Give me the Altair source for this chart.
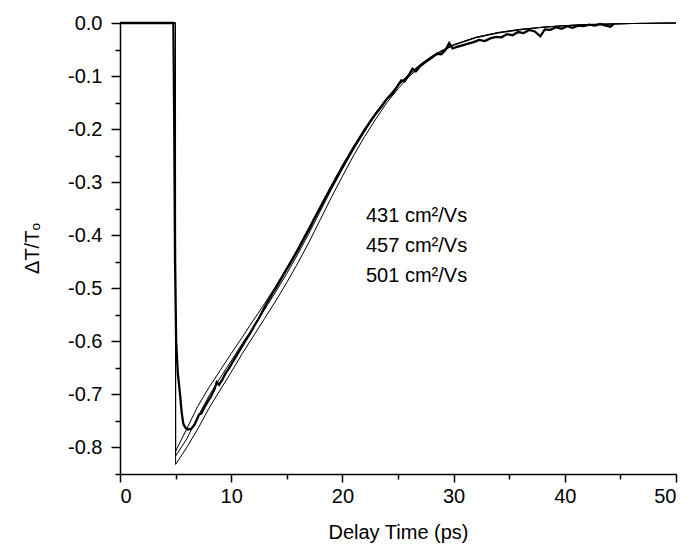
import altair as alt
import pandas as pd

# ---- data ----
FIT_T = [0, 4.99, 5, 6, 7, 8, 9, 10, 11, 12, 13, 14, 15, 16, 17, 18, 19, 20, 21, 22,
         23, 24, 25, 26, 27, 28, 29, 30, 32, 34, 36, 38, 40, 42, 44, 46, 48, 50]
FIT_431 = [0, 0, -0.832, -0.800, -0.765, -0.726, -0.692, -0.658, -0.623, -0.590, -0.557,
           -0.524, -0.489, -0.452, -0.413, -0.371, -0.329, -0.289, -0.250, -0.214, -0.181,
           -0.150, -0.124, -0.101, -0.082, -0.066, -0.053, -0.042, -0.028, -0.019, -0.013,
           -0.008, -0.005, -0.003, -0.002, -0.001, -0.0005, 0]
FIT_457 = [0, 0, -0.816, -0.784, -0.742, -0.703, -0.669, -0.637, -0.604, -0.573, -0.540,
           -0.507, -0.472, -0.435, -0.396, -0.355, -0.314, -0.275, -0.238, -0.204, -0.172,
           -0.144, -0.119, -0.098, -0.079, -0.064, -0.052, -0.041, -0.027, -0.018, -0.012,
           -0.008, -0.005, -0.003, -0.002, -0.001, -0.0005, 0]
FIT_501 = [0, 0, -0.807, -0.765, -0.722, -0.687, -0.655, -0.623, -0.592, -0.560, -0.529,
           -0.496, -0.461, -0.424, -0.385, -0.345, -0.306, -0.268, -0.232, -0.199, -0.169,
           -0.141, -0.117, -0.096, -0.078, -0.063, -0.051, -0.041, -0.027, -0.018, -0.012,
           -0.008, -0.005, -0.003, -0.002, -0.001, -0.0005, 0]

DATA_POINTS = [
    (0, 0), (4.8, 0), (4.88, -0.2), (4.95, -0.45), (5.05, -0.6), (5.2, -0.66), (5.4, -0.70),
    (5.55, -0.735), (5.7, -0.756), (5.9, -0.763), (6.1, -0.766), (6.4, -0.765), (6.7, -0.757),
    (6.9, -0.748), (7.1, -0.738), (7.3, -0.736), (7.6, -0.724), (7.9, -0.713), (8.2, -0.703),
    (8.5, -0.690), (8.7, -0.677), (8.9, -0.682), (9.2, -0.672), (9.5, -0.660), (9.8, -0.651),
    (10.1, -0.640), (10.5, -0.626), (10.9, -0.612), (11.3, -0.598), (11.7, -0.585),
    (12.1, -0.570), (12.5, -0.556), (12.9, -0.540), (13.2, -0.528), (13.6, -0.514),
    (14, -0.500), (14.5, -0.482), (15, -0.464), (15.5, -0.446), (16, -0.428), (16.5, -0.408),
    (17, -0.389), (17.5, -0.368), (18, -0.349), (18.5, -0.329), (19, -0.310), (19.5, -0.291),
    (20, -0.272), (20.5, -0.254), (21, -0.236), (21.5, -0.219), (22, -0.202), (22.5, -0.186),
    (23, -0.171), (23.5, -0.158), (24, -0.143), (24.5, -0.134), (25, -0.117), (25.3, -0.108),
    (25.6, -0.110), (26, -0.097), (26.3, -0.086), (26.6, -0.091), (27, -0.081), (27.5, -0.073),
    (28, -0.066), (28.5, -0.058), (28.9, -0.059), (29.3, -0.050), (29.6, -0.038),
    (29.9, -0.048), (30.3, -0.045), (30.8, -0.042), (31.3, -0.039), (31.8, -0.036),
    (32.3, -0.032), (32.8, -0.034), (33.3, -0.029), (33.8, -0.026), (34.3, -0.027),
    (34.8, -0.021), (35.3, -0.023), (35.8, -0.017), (36.3, -0.019), (36.8, -0.013),
    (37.3, -0.016), (37.8, -0.025), (38.2, -0.012), (38.7, -0.013), (39.2, -0.008),
    (39.7, -0.011), (40.2, -0.006), (40.7, -0.009), (41.2, -0.005), (41.7, -0.006),
    (42.2, -0.003), (42.7, -0.005), (43.2, -0.002), (43.7, -0.005), (44.1, -0.007),
    (44.4, -0.002),
]

X_TICKS = [0, 5, 10, 15, 20, 25, 30, 35, 40, 45, 50]
Y_TICKS = [0.0, -0.05, -0.1, -0.15, -0.2, -0.25, -0.3, -0.35, -0.4, -0.45, -0.5,
           -0.55, -0.6, -0.65, -0.7, -0.75, -0.8, -0.85]
ANNOT_LINES = ["431 cm²/Vs", "457 cm²/Vs", "501 cm²/Vs"]

# ---- tables ----
rows = []
for name, vals in (("431", FIT_431), ("457", FIT_457), ("501", FIT_501)):
    for t, v in zip(FIT_T, vals):
        rows.append({"t": t, "v": v, "series": name})
fits = pd.DataFrame(rows)
meas = pd.DataFrame(DATA_POINTS, columns=["t", "v"])

FONT = "Liberation Sans"
Y_MAJOR = "abs(datum.value * 10 - round(datum.value * 10)) < 0.001"

x_enc = alt.X(
    "t:Q",
    scale=alt.Scale(domain=[0, 50], nice=False, zero=False),
    axis=alt.Axis(
        values=X_TICKS,
        title="Delay Time (ps)",
        labelExpr="datum.value % 10 === 0 ? datum.label : ''",
        tickSize={"condition": {"test": "datum.value % 10 === 0", "value": 8}, "value": 5},
        labelPadding=4,
        titleY=64,
        titleBaseline="alphabetic",
    ),
)
y_enc = alt.Y(
    "v:Q",
    scale=alt.Scale(domain=[-0.85, 0], nice=False, zero=False),
    axis=alt.Axis(
        values=Y_TICKS,
        title="ΔT/Tₒ",
        labelExpr=f"{Y_MAJOR} ? replace(format(datum.value, '.1f'), '−', '-') : ''",
        tickSize={"condition": {"test": Y_MAJOR, "value": 9}, "value": 5},
        labelPadding=9,
        titleAngle=270,
        titleX=-88,
        titleY=225,
        titleAlign="center",
        titleBaseline="middle",
    ),
)

fit_lines = alt.Chart(fits).mark_line(color="black", strokeWidth=1).encode(
    x=x_enc, y=y_enc, detail="series:N"
)
data_line = alt.Chart(meas).mark_line(color="black", strokeWidth=2.3).encode(
    x=x_enc, y=y_enc
)
annot = alt.Chart(pd.DataFrame({"k": [0]})).mark_text(
    text=ANNOT_LINES, align="left", baseline="alphabetic", lineHeight=30,
    font=FONT, fontSize=20, color="black",
).encode(x=alt.value(246), y=alt.value(199))

chart = (
    alt.layer(fit_lines, data_line, annot)
    .properties(
        width=556,
        height=451,
        autosize=alt.AutoSizeParams(type="none"),
        padding={"left": 120, "top": 23, "right": 16, "bottom": 79},
        background="white",
    )
    .configure_view(stroke=None)
    .configure_axis(
        grid=False,
        domainColor="black",
        domainWidth=1.5,
        tickColor="black",
        tickWidth=1.5,
        labelFont=FONT,
        labelFontSize=20,
        labelColor="black",
        titleFont=FONT,
        titleFontSize=20,
        titleFontWeight="normal",
        titleColor="black",
    )
)

chart.save("out.html", embed_options={"renderer": "svg", "actions": False})
